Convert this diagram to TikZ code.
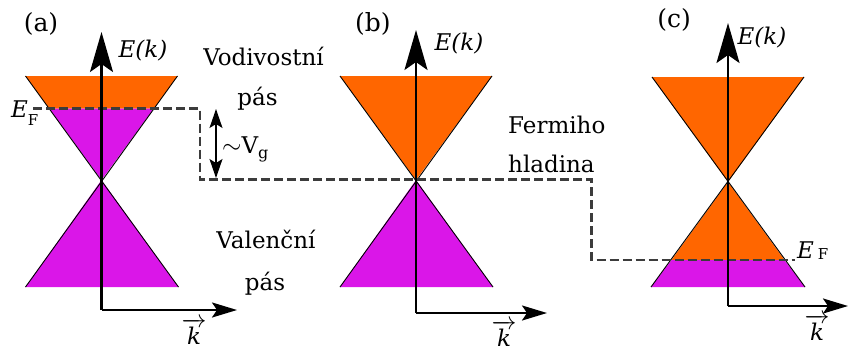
\documentclass[tikz,border=0pt]{standalone}
\usepackage{fontspec}
\setmainfont{DejaVu Serif}
\usetikzlibrary{arrows.meta}
\definecolor{cband}{RGB}{255,102,0}
\definecolor{vband}{RGB}{218,22,232}
\definecolor{fermi}{RGB}{60,60,60}
\begin{document}
\begin{tikzpicture}[x=1pt,y=-1pt,
  txt/.style={inner sep=0pt,font=\fontsize{23}{27}\selectfont},
  panellbl/.style={inner sep=0pt,font=\fontsize{25}{30}\selectfont},
  edge/.style={line width=0.9pt,black},
  vaxis/.style={line width=2.2pt,-{Stealth[length=40pt,width=23pt,inset=8pt]}},
  haxis/.style={line width=2.2pt,-{Stealth[length=25pt,width=15pt,inset=5pt]}},
  fermiline/.style={line width=2.2pt,fermi,dash pattern=on 9pt off 4pt},
  gaparrow/.style={line width=1.3pt,{Stealth[length=19pt,width=13pt,inset=4pt]}-{Stealth[length=19pt,width=13pt,inset=4pt]}}]
\useasboundingbox (0,0) rectangle (849,351);
% ---------- panel (a)
\fill[cband] (25.5,76) -- (177.5,76) -- (153.8,108.5) -- (49.2,108.5) -- cycle;
\fill[vband] (49.2,108.5) -- (153.8,108.5) -- (101.5,180) -- cycle;
\fill[vband] (101.5,180) -- (178.5,287) -- (25.5,287) -- cycle;
\draw[edge] (25.5,76) -- (178.5,287);
\draw[edge] (177.5,76) -- (25.5,287);
% ---------- panel (b)
\fill[cband] (340,76) -- (492,76) -- (416,180) -- cycle;
\fill[vband] (416,180) -- (493,287) -- (340,287) -- cycle;
\draw[edge] (340,76) -- (493,287);
\draw[edge] (492,76) -- (340,287);
% ---------- panel (c)
\fill[cband] (652,77) -- (804,77) -- (728,182) -- cycle;
\fill[cband] (728,182) -- (784.5,260) -- (671.5,260) -- cycle;
\fill[vband] (671.5,260) -- (784.5,260) -- (805,287) -- (651,287) -- cycle;
\draw[edge] (652,77) -- (805,287);
\draw[edge] (804,77) -- (651,287);
% ---------- Fermi level
\coordinate (f1) at (33,108.5);
\coordinate (f2) at (200,108.5);
\coordinate (f3) at (200,179.5);
\coordinate (f4) at (591.5,179.5);
\coordinate (f5) at (591.5,260);
\coordinate (f6) at (795,260);
\draw[fermiline] (f1) -- (f2) -- (f3) -- (f4) -- (f5) -- (f6);
% ---------- axes
\coordinate (oa) at (101.5,310);
\coordinate (ta) at (101.5,32);
\coordinate (ra) at (237,310);
\draw[vaxis] (oa) -- (ta);
\draw[haxis] (oa) -- (ra);
\coordinate (ob) at (416,313);
\coordinate (tb) at (416,30);
\coordinate (rb) at (547,313);
\draw[vaxis] (ob) -- (tb);
\draw[haxis] (ob) -- (rb);
\coordinate (oc) at (728,306);
\coordinate (tc) at (728,23);
\coordinate (rc) at (848,306);
\draw[vaxis] (oc) -- (tc);
\draw[haxis] (oc) -- (rc);
% ---------- gap arrow
\coordinate (ga) at (216,109);
\coordinate (gb) at (216,178);
\draw[gaparrow] (ga) -- (gb);
% ---------- labels
\node[panellbl] (la) at (41,24) {(a)};
\node[panellbl] (lb) at (373,24) {(b)};
\node[panellbl] (lc) at (674,20) {(c)};
\node[txt,anchor=base] (ea) at (143,57) {\itshape E(k)};
\node[txt,anchor=base] (eb) at (459,50) {\itshape E(k)};
\node[txt,anchor=base] (ec) at (762,44) {\itshape E(k)};
\node[txt,anchor=base] (ka) at (194,344) {$\overrightarrow{\mbox{\itshape k}}$};
\node[txt,anchor=base] (kb) at (504,346) {$\overrightarrow{\mbox{\itshape k}}$};
\node[txt,anchor=base] (kc) at (817,340) {$\overrightarrow{\mbox{\itshape k}}$};
\node[txt,anchor=base west] (efa) at (11,117) {\itshape E\upshape\raisebox{-8pt}{\fontsize{15}{15}\selectfont F}};
\node[txt,anchor=base west] (efc) at (797,258) {\itshape E\upshape\,\raisebox{-1pt}{\fontsize{15}{15}\selectfont F}};
\node[txt,anchor=base west] (vg) at (222,153) {$\sim$V\raisebox{-5pt}{\fontsize{16}{16}\selectfont g}};
\node[txt,anchor=base] (vod1) at (263.5,65) {Vodivostní};
\node[txt,anchor=base] (vod2) at (257.5,105) {pás};
\node[txt,anchor=base] (val1) at (266,248) {Valenční};
\node[txt,anchor=base] (val2) at (265,290) {pás};
\node[txt,anchor=base west] (fer1) at (508,133) {Fermiho};
\node[txt,anchor=base west] (fer2) at (508,172) {hladina};
\end{tikzpicture}
\end{document}
